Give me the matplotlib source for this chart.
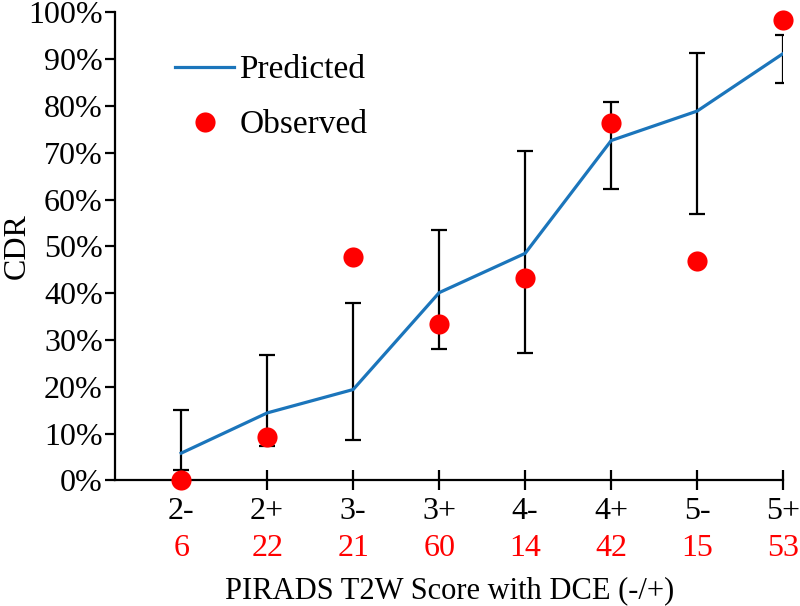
import numpy as np
import matplotlib
matplotlib.use("Agg")
import matplotlib.pyplot as plt
from matplotlib.lines import Line2D

# values
categories = ["2-", "2+", "3-", "3+", "4-", "4+", "5-", "5+"]
counts = [6, 22, 21, 60, 14, 42, 15, 53]
predicted = [0.058, 0.144, 0.194, 0.401, 0.485, 0.726, 0.789, 0.912]
ci_low = [0.022, 0.074, 0.086, 0.280, 0.273, 0.622, 0.569, 0.850]
ci_high = [0.150, 0.267, 0.379, 0.535, 0.704, 0.809, 0.912, 0.951]
observed = [0.0, 0.092, 0.478, 0.335, 0.432, 0.764, 0.469, 0.984]

plt.rcParams["font.family"] = ["Liberation Serif", "DejaVu Serif"]
plt.rcParams["font.size"] = 23

fig = plt.figure(figsize=(8, 6.06), dpi=100)
ax = fig.add_axes([0.144, 0.2074, 0.835, 0.7723])

x = np.arange(len(categories))
pred = np.array(predicted)
err = [pred - np.array(ci_low), np.array(ci_high) - pred]

ax.errorbar(x, pred, yerr=err, fmt="none", ecolor="black",
            elinewidth=1.6, capsize=6, capthick=1.6, zorder=2)
ax.plot(x, pred, color="#1b75bb", lw=2.3, zorder=3)
ax.plot(x, observed, "o", color="#ff0000", ms=14.5, mec="none", zorder=4,
        clip_on=False)

ax.set_xlim(-0.767, 7)
ax.set_ylim(0, 1)
ax.set_xticks(x)
ax.set_xticklabels(categories)
ax.set_yticks(np.arange(0, 1.01, 0.1))
ax.set_yticklabels([f"{int(round(v * 100))}%" for v in np.arange(0, 1.01, 0.1)])

for s in ["top", "right"]:
    ax.spines[s].set_visible(False)
for s in ["left", "bottom"]:
    ax.spines[s].set_linewidth(1.6)
ax.tick_params(axis="x", direction="inout", length=14, width=1.6, pad=5)
ax.tick_params(axis="y", direction="out", length=7, width=1.6, pad=2)

# patient counts under each category
for xi, n in zip(x, counts):
    ax.text(xi, -0.145, str(n), color="#ff0000", ha="center", va="center",
            transform=ax.get_xaxis_transform())

ax.text(0.5, -0.236, "PIRADS T2W Score with DCE (-/+)", ha="center", va="center",
        fontsize=22, transform=ax.transAxes)
ax.set_ylabel("CDR", fontsize=23, va="center")
ax.yaxis.set_label_coords(-0.146, 0.5)

handles = [
    Line2D([], [], color="#1b75bb", lw=2.3),
    Line2D([], [], marker="o", ls="none", color="#ff0000", ms=14.5, mec="none"),
]
ax.legend(handles, ["Predicted", "Observed"], loc="upper left",
          bbox_to_anchor=(0.09, 0.909), frameon=False, borderpad=0,
          borderaxespad=0, fontsize=24, handlelength=1.77,
          handletextpad=0.15, labelspacing=0.735)

fig.savefig("out.png", dpi=100)
